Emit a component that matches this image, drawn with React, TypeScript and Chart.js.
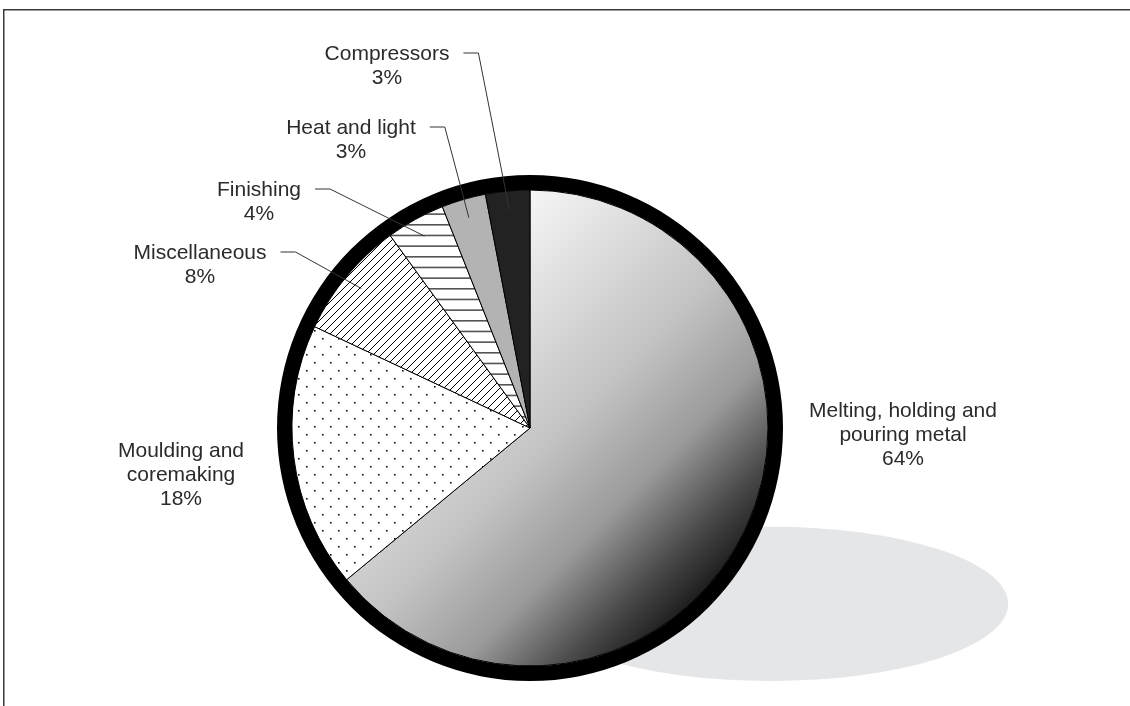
import React, { useEffect, useRef } from "react";
import { Chart, registerables } from "chart.js";

Chart.register(...registerables);

const categories: string[][] = [
  ["Melting, holding and", "pouring metal"],
  ["Moulding and", "coremaking"],
  ["Miscellaneous"],
  ["Finishing"],
  ["Heat and light"],
  ["Compressors"],
];
const values = [64, 18, 8, 4, 3, 3];

// label layout (text centre x, first-line y) and whether a leader line is drawn
const labelCenterX = [903, 181, 200, 259, 351, 387];
const labelTopY = [411, 451, 253, 190, 128, 54];
const hasLeader = [false, false, true, true, true, true];

const FONT = '21px "Liberation Sans", Arial, Helvetica, sans-serif';
const TEXT_COLOR = "#2b2b2b";
const RING_W = 15;
const SLICE_W = 238;

function makeDots(): CanvasPattern | string {
  const c = document.createElement("canvas");
  c.width = 16;
  c.height = 16;
  const g = c.getContext("2d")!;
  g.fillStyle = "#fff";
  g.fillRect(0, 0, 16, 16);
  g.fillStyle = "#111";
  g.fillRect(2, 2, 1.6, 1.6);
  g.fillRect(10, 10, 1.6, 1.6);
  return g.createPattern(c, "repeat") || "#fff";
}

function makeHatch(): CanvasPattern | string {
  const s = 8;
  const c = document.createElement("canvas");
  c.width = s;
  c.height = s;
  const g = c.getContext("2d")!;
  g.fillStyle = "#fff";
  g.fillRect(0, 0, s, s);
  g.strokeStyle = "#000";
  g.lineWidth = 1;
  g.beginPath();
  g.moveTo(-1, s + 1);
  g.lineTo(s + 1, -1);
  g.moveTo(-1, 1);
  g.lineTo(1, -1);
  g.moveTo(s - 1, s + 1);
  g.lineTo(s + 1, s - 1);
  g.stroke();
  return g.createPattern(c, "repeat") || "#fff";
}

function makeHLines(): CanvasPattern | string {
  const c = document.createElement("canvas");
  c.width = 4;
  c.height = 32;
  const g = c.getContext("2d")!;
  g.fillStyle = "#fff";
  g.fillRect(0, 0, 4, 32);
  g.fillStyle = "#555";
  for (let k = 0; k < 3; k++) {
    g.fillRect(0, (k * 32) / 3, 4, 1.6);
  }
  return g.createPattern(c, "repeat") || "#fff";
}

function pieGeom(chart: any) {
  const a = chart.chartArea;
  const cx = (a.left + a.right) / 2;
  const cy = (a.top + a.bottom) / 2;
  const R = Math.min(a.right - a.left, a.bottom - a.top) / 2;
  return { cx, cy, R, r: (R * SLICE_W) / (SLICE_W + RING_W) };
}

export default function App() {
  const ref = useRef<HTMLCanvasElement | null>(null);

  useEffect(() => {
    if (!ref.current) return;
    const dots = makeDots();
    const hatch = makeHatch();
    const hlines = makeHLines();

    const fills = (ctx: any) => {
      const chart = ctx.chart;
      const i = ctx.dataIndex;
      if (!chart.chartArea) return "#ccc";
      if (i === 0) {
        const { cx, cy, r } = pieGeom(chart);
        const g = chart.ctx.createLinearGradient(
          cx - 0.56 * r,
          cy - 0.56 * r,
          cx + 0.8 * r,
          cy + 0.8 * r
        );
        g.addColorStop(0, "#fbfbfb");
        g.addColorStop(0.47, "#c2c2c2");
        g.addColorStop(0.67, "#9a9a9a");
        g.addColorStop(0.83, "#4a4a4a");
        g.addColorStop(1, "#000");
        return g;
      }
      return [null, dots, hatch, hlines, "#b3b3b3", "#222222"][i];
    };

    const decor = {
      id: "decor",
      beforeDatasetsDraw(chart: any) {
        const c = chart.ctx;
        const { cx, cy, R } = pieGeom(chart);
        c.save();
        // frame
        c.strokeStyle = "#3a3a3a";
        c.lineWidth = 1.5;
        c.beginPath();
        c.moveTo(3.75, 706);
        c.lineTo(3.75, 9.75);
        c.lineTo(1130, 9.75);
        c.stroke();
        // shadow
        c.fillStyle = "#e5e6e8";
        c.beginPath();
        c.ellipse(cx + 0.95 * R, cy + 0.695 * R, 0.94 * R, 0.305 * R, 0, 0, Math.PI * 2);
        c.fill();
        c.restore();
      },
      afterDatasetsDraw(chart: any) {
        const c = chart.ctx;
        const meta = chart.getDatasetMeta(1);
        c.save();
        c.font = FONT;
        c.fillStyle = TEXT_COLOR;
        c.textAlign = "center";
        c.textBaseline = "middle";
        const lh = 24;
        categories.forEach((lines, i) => {
          const all = [...lines, values[i] + "%"];
          all.forEach((t, k) => {
            c.fillText(t, labelCenterX[i], labelTopY[i] + k * lh);
          });
          if (hasLeader[i]) {
            const w = c.measureText(lines[0]).width;
            const x0 = labelCenterX[i] + w / 2 + 14;
            const x1 = x0 + 15;
            const y = labelTopY[i] - 1;
            const arc = meta.data[i];
            const mid = (arc.startAngle + arc.endAngle) / 2;
            const rr = arc.outerRadius * 0.92;
            const px = arc.x + Math.cos(mid) * rr;
            const py = arc.y + Math.sin(mid) * rr;
            c.strokeStyle = "#333";
            c.lineWidth = 1;
            c.beginPath();
            c.moveTo(x0, y);
            c.lineTo(x1, y);
            c.lineTo(px, py);
            c.stroke();
          }
        });
        c.restore();
      },
    };

    const chart = new Chart(ref.current, {
      type: "pie",
      data: {
        labels: categories,
        datasets: [
          {
            data: [1],
            backgroundColor: "#000",
            borderWidth: 0,
            weight: RING_W,
          } as any,
          {
            data: values,
            backgroundColor: fills,
            borderColor: "#000",
            borderWidth: 1,
            weight: SLICE_W,
          } as any,
        ],
      },
      options: {
        responsive: false,
        animation: false,
        layout: { padding: { left: 277, right: 347, top: 175, bottom: 25 } },
        plugins: {
          legend: { display: false },
          tooltip: { enabled: false },
          title: { display: false },
        },
      },
      plugins: [decor],
    });
    return () => chart.destroy();
  }, []);

  return (
    <div style={{ position: "fixed", left: 0, top: 0, width: 1130, height: 706, background: "#fff" }}>
      <canvas ref={ref} width={1130} height={706} style={{ display: "block" }} />
    </div>
  );
}
